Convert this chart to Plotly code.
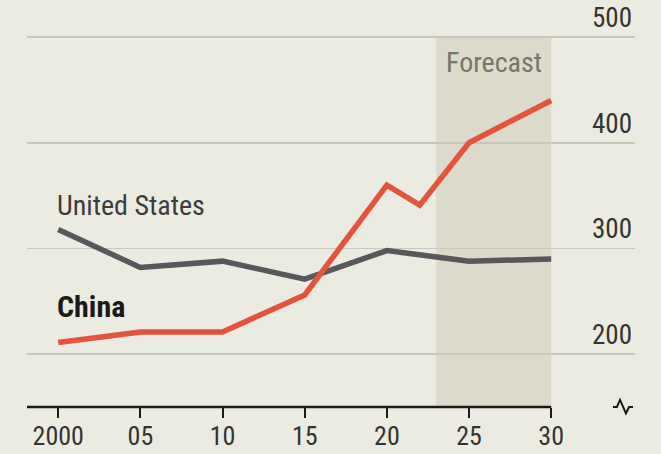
import plotly.graph_objects as go

years_us = [2000, 2005, 2010, 2015, 2020, 2025, 2030]
us_values = [318, 282, 288, 271, 298, 288, 290]

years_cn = [2000, 2005, 2010, 2015, 2020, 2022, 2025, 2030]
cn_values = [211, 221, 221, 256, 360, 341, 400, 440]

x_tickvals = [2000, 2005, 2010, 2015, 2020, 2025, 2030]
x_ticktext = ["2000", "05", "10", "15", "20", "25", "30"]
y_tickvals = [200, 300, 400, 500]
y_ticktext = ["200", "300", "400", "500"]

forecast_start, forecast_end = 2023, 2030
x_range = [1998.1, 2035.1]
y_range = [150, 501]

BG = "#ecebe2"
FONT = "Liberation Sans Narrow, Roboto Condensed, DejaVu Sans Condensed, Roboto, sans-serif"

fig = go.Figure()
fig.add_trace(go.Scatter(x=years_us, y=us_values, mode="lines",
                         line=dict(color="#58585a", width=5.5), name="United States",
                         hoverinfo="skip"))
fig.add_trace(go.Scatter(x=years_cn, y=cn_values, mode="lines",
                         line=dict(color="#e4533b", width=5.5), name="China",
                         hoverinfo="skip"))

# forecast shading (from axis floor up to the top gridline)
fig.add_shape(type="rect", xref="x", yref="y", x0=forecast_start, x1=forecast_end,
              y0=y_range[0], y1=y_tickvals[-1], fillcolor="#dcdaca", line_width=0,
              layer="below")
# x axis baseline (ends at 2030)
fig.add_shape(type="line", xref="x", yref="paper", x0=x_range[0], x1=forecast_end,
              y0=0, y1=0, line=dict(color="#1a1a1a", width=2.5), layer="above")
# axis break symbol
bx = [2033.76, 2034.0, 2034.19, 2034.55, 2034.74, 2034.98]
by = [0, 0, 0.019, -0.017, 0, 0]
path = "M " + " L ".join(f"{a},{b}" for a, b in zip(bx, by))
fig.add_shape(type="path", xref="x", yref="paper", path=path,
              line=dict(color="#1a1a1a", width=2))

# y tick labels: right-aligned, sitting just above each gridline
for v, t in zip(y_tickvals, y_ticktext):
    fig.add_annotation(x=1, y=v, xref="paper", yref="y", text=t, showarrow=False,
                       xanchor="right", yanchor="bottom", yshift=1, xshift=-1,
                       font=dict(family=FONT, size=27, color="#333333"))

fig.add_annotation(x=2000, y=341, xref="x", yref="y", text="United States",
                   showarrow=False, xanchor="left", yanchor="middle", xshift=-3,
                   font=dict(family=FONT, size=28, color="#3c3c3c"))
fig.add_annotation(x=2000, y=245, xref="x", yref="y", text="<b>China</b>",
                   showarrow=False, xanchor="left", yanchor="middle", xshift=-3,
                   font=dict(family=FONT, size=30, color="#1a1a1a"))
fig.add_annotation(x=(forecast_start + forecast_end) / 2, y=476, xref="x", yref="y",
                   text="Forecast", showarrow=False, xanchor="center", yanchor="middle",
                   font=dict(family=FONT, size=28, color="#75756a"))

fig.update_layout(
    width=661, height=454,
    margin=dict(l=27, r=26, t=36, b=47, autoexpand=False),
    paper_bgcolor=BG, plot_bgcolor=BG,
    showlegend=False,
    font=dict(family=FONT, size=27, color="#333333"),
    xaxis=dict(range=x_range, tickvals=x_tickvals, ticktext=x_ticktext,
               showgrid=False, zeroline=False, showline=False,
               ticks="outside", ticklen=10, tickwidth=2, tickcolor="#1a1a1a",
               ticklabelstandoff=-4,
               tickfont=dict(family=FONT, size=26, color="#333333")),
    yaxis=dict(range=y_range, tickvals=y_tickvals, showticklabels=False,
               showgrid=True, gridcolor="#c8c7bb", gridwidth=1.5,
               zeroline=False, showline=False, ticks=""),
)

fig.write_html(
    "out.html",
    config={"displayModeBar": False, "staticPlot": True},
    post_script="document.body.style.margin='0';document.body.style.background='#ecebe2';",
)
